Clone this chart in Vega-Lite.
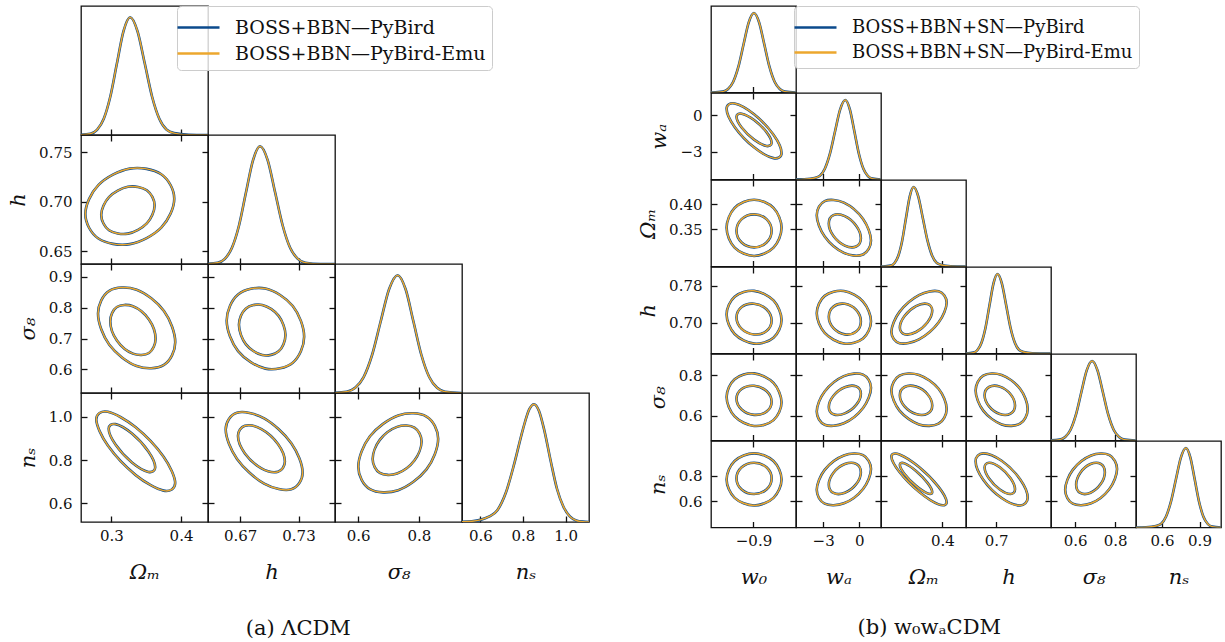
{
"$schema":"https://vega.github.io/schema/vega-lite/v6.json",
"background":"white",
"padding":{"left":6,"top":5,"right":0,"bottom":0},
"config":{
 "view":{"stroke":"#111","strokeWidth":1.3},
 "range":{"category":["#0b4a8c","#eca72e"]},
 "axis":{"domain":false,"grid":false,"ticks":true,"tickSize":-6,"tickColor":"#111","tickWidth":1.3,"labels":false,"labelFont":"DejaVu Serif","labelFontSize":15,"labelColor":"#111","labelFlush":false,"labelOverlap":false,"labelBound":false,"titleFont":"DejaVu Serif","titleFontSize":21,"titleFontWeight":"normal","titleFontStyle":"italic","titleColor":"#111"},
 "axisX":{"labelPadding":12,"titlePadding":18},
 "axisY":{"labelPadding":15,"titlePadding":10},
 "legend":{"symbolType":"M-1.5,0H1.5","symbolSize":784,"symbolStrokeWidth":2.6,"labelFont":"DejaVu Serif","labelFontSize":19,"labelColor":"#111","labelLimit":600,"labelOffset":21,"padding":6,"rowPadding":0,"strokeColor":"#cccccc","fillColor":"rgba(255,255,255,0.8)","cornerRadius":4},
 "title":{"font":"DejaVu Serif","fontSize":21,"fontWeight":"normal","color":"#111"}
},
"data":{"name":"d"},
"datasets":{"d":[
{"p":"L21","l":"o","i":0,"x":0.3903,"y":0.7031},{"p":"L21","l":"o","i":1,"x":0.3716,"y":0.7278},{"p":"L21","l":"o","i":2,"x":0.3265,"y":0.7335},{"p":"L21","l":"o","i":3,"x":0.2814,"y":0.7168},{"p":"L21","l":"o","i":4,"x":0.2627,"y":0.6875},{"p":"L21","l":"o","i":5,"x":0.2814,"y":0.6628},{"p":"L21","l":"o","i":6,"x":0.3265,"y":0.6571},{"p":"L21","l":"o","i":7,"x":0.3716,"y":0.6738},
{"p":"L21","l":"i","i":0,"x":0.3621,"y":0.6962},{"p":"L21","l":"i","i":1,"x":0.3509,"y":0.7116},{"p":"L21","l":"i","i":2,"x":0.3238,"y":0.7151},{"p":"L21","l":"i","i":3,"x":0.2967,"y":0.7047},{"p":"L21","l":"i","i":4,"x":0.2855,"y":0.6866},{"p":"L21","l":"i","i":5,"x":0.2967,"y":0.6712},{"p":"L21","l":"i","i":6,"x":0.3238,"y":0.6677},{"p":"L21","l":"i","i":7,"x":0.3509,"y":0.6781},
{"p":"L31","l":"o","i":0,"x":0.3917,"y":0.6885},{"p":"L31","l":"o","i":1,"x":0.3755,"y":0.7897},{"p":"L31","l":"o","i":2,"x":0.3363,"y":0.8586},{"p":"L31","l":"o","i":3,"x":0.2971,"y":0.8551},{"p":"L31","l":"o","i":4,"x":0.2809,"y":0.7811},{"p":"L31","l":"o","i":5,"x":0.2971,"y":0.6799},{"p":"L31","l":"o","i":6,"x":0.3363,"y":0.611},{"p":"L31","l":"o","i":7,"x":0.3755,"y":0.6145},
{"p":"L31","l":"i","i":0,"x":0.3635,"y":0.6993},{"p":"L31","l":"i","i":1,"x":0.354,"y":0.762},{"p":"L31","l":"i","i":2,"x":0.331,"y":0.8048},{"p":"L31","l":"i","i":3,"x":0.308,"y":0.8026},{"p":"L31","l":"i","i":4,"x":0.2985,"y":0.7567},{"p":"L31","l":"i","i":5,"x":0.308,"y":0.694},{"p":"L31","l":"i","i":6,"x":0.331,"y":0.6512},{"p":"L31","l":"i","i":7,"x":0.354,"y":0.6534},
{"p":"L41","l":"o","i":0,"x":0.3916,"y":0.6938},{"p":"L41","l":"o","i":1,"x":0.375,"y":0.815},{"p":"L41","l":"o","i":2,"x":0.335,"y":0.9514},{"p":"L41","l":"o","i":3,"x":0.295,"y":1.0231},{"p":"L41","l":"o","i":4,"x":0.2784,"y":0.9882},{"p":"L41","l":"o","i":5,"x":0.295,"y":0.867},{"p":"L41","l":"o","i":6,"x":0.335,"y":0.7306},{"p":"L41","l":"o","i":7,"x":0.375,"y":0.6589},
{"p":"L41","l":"i","i":0,"x":0.363,"y":0.7666},{"p":"L41","l":"i","i":1,"x":0.3532,"y":0.84},{"p":"L41","l":"i","i":2,"x":0.3296,"y":0.9227},{"p":"L41","l":"i","i":3,"x":0.306,"y":0.9662},{"p":"L41","l":"i","i":4,"x":0.2962,"y":0.945},{"p":"L41","l":"i","i":5,"x":0.306,"y":0.8716},{"p":"L41","l":"i","i":6,"x":0.3296,"y":0.7889},{"p":"L41","l":"i","i":7,"x":0.3532,"y":0.7454},
{"p":"L32","l":"o","i":0,"x":0.7358,"y":0.706},{"p":"L32","l":"o","i":1,"x":0.7241,"y":0.8056},{"p":"L32","l":"o","i":2,"x":0.696,"y":0.8623},{"p":"L32","l":"o","i":3,"x":0.6679,"y":0.843},{"p":"L32","l":"o","i":4,"x":0.6562,"y":0.759},{"p":"L32","l":"o","i":5,"x":0.6679,"y":0.6594},{"p":"L32","l":"o","i":6,"x":0.696,"y":0.6027},{"p":"L32","l":"o","i":7,"x":0.7241,"y":0.622},
{"p":"L32","l":"i","i":0,"x":0.7166,"y":0.7114},{"p":"L32","l":"i","i":1,"x":0.7096,"y":0.7738},{"p":"L32","l":"i","i":2,"x":0.6927,"y":0.8093},{"p":"L32","l":"i","i":3,"x":0.6758,"y":0.7972},{"p":"L32","l":"i","i":4,"x":0.6688,"y":0.7446},{"p":"L32","l":"i","i":5,"x":0.6758,"y":0.6822},{"p":"L32","l":"i","i":6,"x":0.6927,"y":0.6467},{"p":"L32","l":"i","i":7,"x":0.7096,"y":0.6588},
{"p":"L42","l":"o","i":0,"x":0.7342,"y":0.7427},{"p":"L42","l":"o","i":1,"x":0.7226,"y":0.8784},{"p":"L42","l":"o","i":2,"x":0.6947,"y":0.9928},{"p":"L42","l":"o","i":3,"x":0.6668,"y":1.0189},{"p":"L42","l":"o","i":4,"x":0.6552,"y":0.9413},{"p":"L42","l":"o","i":5,"x":0.6668,"y":0.8056},{"p":"L42","l":"o","i":6,"x":0.6947,"y":0.6912},{"p":"L42","l":"o","i":7,"x":0.7226,"y":0.6651},
{"p":"L42","l":"i","i":0,"x":0.716,"y":0.793},{"p":"L42","l":"i","i":1,"x":0.7089,"y":0.8744},{"p":"L42","l":"i","i":2,"x":0.6919,"y":0.9431},{"p":"L42","l":"i","i":3,"x":0.6749,"y":0.9587},{"p":"L42","l":"i","i":4,"x":0.6678,"y":0.9122},{"p":"L42","l":"i","i":5,"x":0.6749,"y":0.8308},{"p":"L42","l":"i","i":6,"x":0.6919,"y":0.7621},{"p":"L42","l":"i","i":7,"x":0.7089,"y":0.7465},
{"p":"L43","l":"o","i":0,"x":0.8635,"y":0.8982},{"p":"L43","l":"o","i":1,"x":0.825,"y":1.0014},{"p":"L43","l":"o","i":2,"x":0.7319,"y":1.0063},{"p":"L43","l":"o","i":3,"x":0.6388,"y":0.9102},{"p":"L43","l":"o","i":4,"x":0.6003,"y":0.7692},{"p":"L43","l":"o","i":5,"x":0.6388,"y":0.666},{"p":"L43","l":"o","i":6,"x":0.7319,"y":0.6611},{"p":"L43","l":"o","i":7,"x":0.825,"y":0.7572},
{"p":"L43","l":"i","i":0,"x":0.8088,"y":0.886},{"p":"L43","l":"i","i":1,"x":0.7852,"y":0.9505},{"p":"L43","l":"i","i":2,"x":0.7282,"y":0.9536},{"p":"L43","l":"i","i":3,"x":0.6712,"y":0.8935},{"p":"L43","l":"i","i":4,"x":0.6476,"y":0.8054},{"p":"L43","l":"i","i":5,"x":0.6712,"y":0.7409},{"p":"L43","l":"i","i":6,"x":0.7282,"y":0.7378},{"p":"L43","l":"i","i":7,"x":0.7852,"y":0.7979},
{"p":"R21","l":"o","i":0,"x":-0.702,"y":-3.08},{"p":"R21","l":"o","i":1,"x":-0.7588,"y":-1.5982},{"p":"R21","l":"o","i":2,"x":-0.896,"y":0.07},{"p":"R21","l":"o","i":3,"x":-1.0332,"y":0.9473},{"p":"R21","l":"o","i":4,"x":-1.09,"y":0.52},{"p":"R21","l":"o","i":5,"x":-1.0332,"y":-0.9618},{"p":"R21","l":"o","i":6,"x":-0.896,"y":-2.63},{"p":"R21","l":"o","i":7,"x":-0.7588,"y":-3.5073},
{"p":"R21","l":"i","i":0,"x":-0.772,"y":-2.264},{"p":"R21","l":"i","i":1,"x":-0.8083,"y":-1.3881},{"p":"R21","l":"i","i":2,"x":-0.896,"y":-0.402},{"p":"R21","l":"i","i":3,"x":-0.9837,"y":0.1166},{"p":"R21","l":"i","i":4,"x":-1.02,"y":-0.136},{"p":"R21","l":"i","i":5,"x":-0.9837,"y":-1.0119},{"p":"R21","l":"i","i":6,"x":-0.896,"y":-1.998},{"p":"R21","l":"i","i":7,"x":-0.8083,"y":-2.5166},
{"p":"R31","l":"o","i":0,"x":-0.702,"y":0.353},{"p":"R31","l":"o","i":1,"x":-0.7588,"y":0.3923},{"p":"R31","l":"o","i":2,"x":-0.896,"y":0.4086},{"p":"R31","l":"o","i":3,"x":-1.0332,"y":0.3923},{"p":"R31","l":"o","i":4,"x":-1.09,"y":0.353},{"p":"R31","l":"o","i":5,"x":-1.0332,"y":0.3137},{"p":"R31","l":"o","i":6,"x":-0.896,"y":0.2974},{"p":"R31","l":"o","i":7,"x":-0.7588,"y":0.3137},
{"p":"R31","l":"i","i":0,"x":-0.772,"y":0.347},{"p":"R31","l":"i","i":1,"x":-0.8083,"y":0.3701},{"p":"R31","l":"i","i":2,"x":-0.896,"y":0.3796},{"p":"R31","l":"i","i":3,"x":-0.9837,"y":0.3701},{"p":"R31","l":"i","i":4,"x":-1.02,"y":0.347},{"p":"R31","l":"i","i":5,"x":-0.9837,"y":0.3239},{"p":"R31","l":"i","i":6,"x":-0.896,"y":0.3144},{"p":"R31","l":"i","i":7,"x":-0.8083,"y":0.3239},
{"p":"R32","l":"o","i":0,"x":0.97,"y":0.328},{"p":"R32","l":"o","i":1,"x":0.311,"y":0.3704},{"p":"R32","l":"o","i":2,"x":-1.28,"y":0.4027},{"p":"R32","l":"o","i":3,"x":-2.871,"y":0.4058},{"p":"R32","l":"o","i":4,"x":-3.53,"y":0.378},{"p":"R32","l":"o","i":5,"x":-2.871,"y":0.3356},{"p":"R32","l":"o","i":6,"x":-1.28,"y":0.3033},{"p":"R32","l":"o","i":7,"x":0.311,"y":0.3002},
{"p":"R32","l":"i","i":0,"x":0.13,"y":0.3323},{"p":"R32","l":"i","i":1,"x":-0.2596,"y":0.3572},{"p":"R32","l":"i","i":2,"x":-1.2,"y":0.3761},{"p":"R32","l":"i","i":3,"x":-2.1404,"y":0.378},{"p":"R32","l":"i","i":4,"x":-2.53,"y":0.3617},{"p":"R32","l":"i","i":5,"x":-2.1404,"y":0.3368},{"p":"R32","l":"i","i":6,"x":-1.2,"y":0.3179},{"p":"R32","l":"i","i":7,"x":-0.2596,"y":0.316},
{"p":"R41","l":"o","i":0,"x":-0.702,"y":0.7063},{"p":"R41","l":"o","i":1,"x":-0.7588,"y":0.7481},{"p":"R41","l":"o","i":2,"x":-0.896,"y":0.7687},{"p":"R41","l":"o","i":3,"x":-1.0332,"y":0.7561},{"p":"R41","l":"o","i":4,"x":-1.09,"y":0.7177},{"p":"R41","l":"o","i":5,"x":-1.0332,"y":0.6759},{"p":"R41","l":"o","i":6,"x":-0.896,"y":0.6553},{"p":"R41","l":"o","i":7,"x":-0.7588,"y":0.6679},
{"p":"R41","l":"i","i":0,"x":-0.772,"y":0.7047},{"p":"R41","l":"i","i":1,"x":-0.8083,"y":0.7291},{"p":"R41","l":"i","i":2,"x":-0.896,"y":0.7411},{"p":"R41","l":"i","i":3,"x":-0.9837,"y":0.7338},{"p":"R41","l":"i","i":4,"x":-1.02,"y":0.7113},{"p":"R41","l":"i","i":5,"x":-0.9837,"y":0.6869},{"p":"R41","l":"i","i":6,"x":-0.896,"y":0.6749},{"p":"R41","l":"i","i":7,"x":-0.8083,"y":0.6822},
{"p":"R42","l":"o","i":0,"x":0.97,"y":0.7034},{"p":"R42","l":"o","i":1,"x":0.311,"y":0.7458},{"p":"R42","l":"o","i":2,"x":-1.28,"y":0.7684},{"p":"R42","l":"o","i":3,"x":-2.871,"y":0.7579},{"p":"R42","l":"o","i":4,"x":-3.53,"y":0.7206},{"p":"R42","l":"o","i":5,"x":-2.871,"y":0.6782},{"p":"R42","l":"o","i":6,"x":-1.28,"y":0.6556},{"p":"R42","l":"o","i":7,"x":0.311,"y":0.6661},
{"p":"R42","l":"i","i":0,"x":0.13,"y":0.703},{"p":"R42","l":"i","i":1,"x":-0.2596,"y":0.7277},{"p":"R42","l":"i","i":2,"x":-1.2,"y":0.7409},{"p":"R42","l":"i","i":3,"x":-2.1404,"y":0.7348},{"p":"R42","l":"i","i":4,"x":-2.53,"y":0.713},{"p":"R42","l":"i","i":5,"x":-2.1404,"y":0.6883},{"p":"R42","l":"i","i":6,"x":-1.2,"y":0.6751},{"p":"R42","l":"i","i":7,"x":-0.2596,"y":0.6812},
{"p":"R43","l":"o","i":0,"x":0.4086,"y":0.7434},{"p":"R43","l":"o","i":1,"x":0.3923,"y":0.7678},{"p":"R43","l":"o","i":2,"x":0.353,"y":0.7596},{"p":"R43","l":"o","i":3,"x":0.3137,"y":0.7235},{"p":"R43","l":"o","i":4,"x":0.2974,"y":0.6806},{"p":"R43","l":"o","i":5,"x":0.3137,"y":0.6562},{"p":"R43","l":"o","i":6,"x":0.353,"y":0.6644},{"p":"R43","l":"o","i":7,"x":0.3923,"y":0.7005},
{"p":"R43","l":"i","i":0,"x":0.3796,"y":0.7263},{"p":"R43","l":"i","i":1,"x":0.3701,"y":0.7406},{"p":"R43","l":"i","i":2,"x":0.347,"y":0.7358},{"p":"R43","l":"i","i":3,"x":0.3239,"y":0.7147},{"p":"R43","l":"i","i":4,"x":0.3144,"y":0.6897},{"p":"R43","l":"i","i":5,"x":0.3239,"y":0.6754},{"p":"R43","l":"i","i":6,"x":0.347,"y":0.6802},{"p":"R43","l":"i","i":7,"x":0.3701,"y":0.7013},
{"p":"R51","l":"o","i":0,"x":-0.702,"y":0.667},{"p":"R51","l":"o","i":1,"x":-0.7588,"y":0.7623},{"p":"R51","l":"o","i":2,"x":-0.896,"y":0.8094},{"p":"R51","l":"o","i":3,"x":-1.0332,"y":0.7807},{"p":"R51","l":"o","i":4,"x":-1.09,"y":0.693},{"p":"R51","l":"o","i":5,"x":-1.0332,"y":0.5977},{"p":"R51","l":"o","i":6,"x":-0.896,"y":0.5506},{"p":"R51","l":"o","i":7,"x":-0.7588,"y":0.5793},
{"p":"R51","l":"i","i":0,"x":-0.772,"y":0.6698},{"p":"R51","l":"i","i":1,"x":-0.8083,"y":0.7226},{"p":"R51","l":"i","i":2,"x":-0.896,"y":0.7486},{"p":"R51","l":"i","i":3,"x":-0.9837,"y":0.7327},{"p":"R51","l":"i","i":4,"x":-1.02,"y":0.6842},{"p":"R51","l":"i","i":5,"x":-0.9837,"y":0.6314},{"p":"R51","l":"i","i":6,"x":-0.896,"y":0.6054},{"p":"R51","l":"i","i":7,"x":-0.8083,"y":0.6213},
{"p":"R52","l":"o","i":0,"x":0.97,"y":0.7385},{"p":"R52","l":"o","i":1,"x":0.311,"y":0.8035},{"p":"R52","l":"o","i":2,"x":-1.28,"y":0.7961},{"p":"R52","l":"o","i":3,"x":-2.871,"y":0.7207},{"p":"R52","l":"o","i":4,"x":-3.53,"y":0.6215},{"p":"R52","l":"o","i":5,"x":-2.871,"y":0.5565},{"p":"R52","l":"o","i":6,"x":-1.28,"y":0.5639},{"p":"R52","l":"o","i":7,"x":0.311,"y":0.6393},
{"p":"R52","l":"i","i":0,"x":0.13,"y":0.7094},{"p":"R52","l":"i","i":1,"x":-0.2596,"y":0.7454},{"p":"R52","l":"i","i":2,"x":-1.2,"y":0.7413},{"p":"R52","l":"i","i":3,"x":-2.1404,"y":0.6996},{"p":"R52","l":"i","i":4,"x":-2.53,"y":0.6446},{"p":"R52","l":"i","i":5,"x":-2.1404,"y":0.6086},{"p":"R52","l":"i","i":6,"x":-1.2,"y":0.6127},{"p":"R52","l":"i","i":7,"x":-0.2596,"y":0.6544},
{"p":"R53","l":"o","i":0,"x":0.4086,"y":0.6345},{"p":"R53","l":"o","i":1,"x":0.3923,"y":0.7339},{"p":"R53","l":"o","i":2,"x":0.353,"y":0.8018},{"p":"R53","l":"o","i":3,"x":0.3137,"y":0.7983},{"p":"R53","l":"o","i":4,"x":0.2974,"y":0.7255},{"p":"R53","l":"o","i":5,"x":0.3137,"y":0.6261},{"p":"R53","l":"o","i":6,"x":0.353,"y":0.5582},{"p":"R53","l":"o","i":7,"x":0.3923,"y":0.5617},
{"p":"R53","l":"i","i":0,"x":0.3796,"y":0.6518},{"p":"R53","l":"i","i":1,"x":0.3701,"y":0.7069},{"p":"R53","l":"i","i":2,"x":0.347,"y":0.7444},{"p":"R53","l":"i","i":3,"x":0.3239,"y":0.7425},{"p":"R53","l":"i","i":4,"x":0.3144,"y":0.7022},{"p":"R53","l":"i","i":5,"x":0.3239,"y":0.6471},{"p":"R53","l":"i","i":6,"x":0.347,"y":0.6096},{"p":"R53","l":"i","i":7,"x":0.3701,"y":0.6115},
{"p":"R54","l":"o","i":0,"x":0.769,"y":0.6345},{"p":"R54","l":"o","i":1,"x":0.7523,"y":0.7339},{"p":"R54","l":"o","i":2,"x":0.712,"y":0.8018},{"p":"R54","l":"o","i":3,"x":0.6717,"y":0.7983},{"p":"R54","l":"o","i":4,"x":0.655,"y":0.7255},{"p":"R54","l":"o","i":5,"x":0.6717,"y":0.6261},{"p":"R54","l":"o","i":6,"x":0.712,"y":0.5582},{"p":"R54","l":"o","i":7,"x":0.7523,"y":0.5617},
{"p":"R54","l":"i","i":0,"x":0.7413,"y":0.6518},{"p":"R54","l":"i","i":1,"x":0.7315,"y":0.7069},{"p":"R54","l":"i","i":2,"x":0.708,"y":0.7444},{"p":"R54","l":"i","i":3,"x":0.6845,"y":0.7425},{"p":"R54","l":"i","i":4,"x":0.6747,"y":0.7022},{"p":"R54","l":"i","i":5,"x":0.6845,"y":0.6471},{"p":"R54","l":"i","i":6,"x":0.708,"y":0.6096},{"p":"R54","l":"i","i":7,"x":0.7315,"y":0.6115},
{"p":"R61","l":"o","i":0,"x":-0.702,"y":0.77},{"p":"R61","l":"o","i":1,"x":-0.7588,"y":0.915},{"p":"R61","l":"o","i":2,"x":-0.896,"y":0.975},{"p":"R61","l":"o","i":3,"x":-1.0332,"y":0.915},{"p":"R61","l":"o","i":4,"x":-1.09,"y":0.77},{"p":"R61","l":"o","i":5,"x":-1.0332,"y":0.625},{"p":"R61","l":"o","i":6,"x":-0.896,"y":0.565},{"p":"R61","l":"o","i":7,"x":-0.7588,"y":0.625},
{"p":"R61","l":"i","i":0,"x":-0.772,"y":0.778},{"p":"R61","l":"i","i":1,"x":-0.8083,"y":0.865},{"p":"R61","l":"i","i":2,"x":-0.896,"y":0.901},{"p":"R61","l":"i","i":3,"x":-0.9837,"y":0.865},{"p":"R61","l":"i","i":4,"x":-1.02,"y":0.778},{"p":"R61","l":"i","i":5,"x":-0.9837,"y":0.691},{"p":"R61","l":"i","i":6,"x":-0.896,"y":0.655},{"p":"R61","l":"i","i":7,"x":-0.8083,"y":0.691},
{"p":"R62","l":"o","i":0,"x":0.97,"y":0.852},{"p":"R62","l":"o","i":1,"x":0.311,"y":0.9608},{"p":"R62","l":"o","i":2,"x":-1.28,"y":0.9579},{"p":"R62","l":"o","i":3,"x":-2.871,"y":0.8449},{"p":"R62","l":"o","i":4,"x":-3.53,"y":0.688},{"p":"R62","l":"o","i":5,"x":-2.871,"y":0.5792},{"p":"R62","l":"o","i":6,"x":-1.28,"y":0.5821},{"p":"R62","l":"o","i":7,"x":0.311,"y":0.6951},
{"p":"R62","l":"i","i":0,"x":0.13,"y":0.8272},{"p":"R62","l":"i","i":1,"x":-0.2596,"y":0.8925},{"p":"R62","l":"i","i":2,"x":-1.2,"y":0.8907},{"p":"R62","l":"i","i":3,"x":-2.1404,"y":0.8229},{"p":"R62","l":"i","i":4,"x":-2.53,"y":0.7288},{"p":"R62","l":"i","i":5,"x":-2.1404,"y":0.6635},{"p":"R62","l":"i","i":6,"x":-1.2,"y":0.6653},{"p":"R62","l":"i","i":7,"x":-0.2596,"y":0.7331},
{"p":"R63","l":"o","i":0,"x":0.4086,"y":0.5896},{"p":"R63","l":"o","i":1,"x":0.3923,"y":0.7113},{"p":"R63","l":"o","i":2,"x":0.353,"y":0.8674},{"p":"R63","l":"o","i":3,"x":0.3137,"y":0.9664},{"p":"R63","l":"o","i":4,"x":0.2974,"y":0.9504},{"p":"R63","l":"o","i":5,"x":0.3137,"y":0.8287},{"p":"R63","l":"o","i":6,"x":0.353,"y":0.6726},{"p":"R63","l":"o","i":7,"x":0.3923,"y":0.5736},
{"p":"R63","l":"i","i":0,"x":0.3796,"y":0.6698},{"p":"R63","l":"i","i":1,"x":0.3701,"y":0.7428},{"p":"R63","l":"i","i":2,"x":0.347,"y":0.8364},{"p":"R63","l":"i","i":3,"x":0.3239,"y":0.8958},{"p":"R63","l":"i","i":4,"x":0.3144,"y":0.8862},{"p":"R63","l":"i","i":5,"x":0.3239,"y":0.8132},{"p":"R63","l":"i","i":6,"x":0.347,"y":0.7196},{"p":"R63","l":"i","i":7,"x":0.3701,"y":0.6602},
{"p":"R64","l":"o","i":0,"x":0.769,"y":0.6265},{"p":"R64","l":"o","i":1,"x":0.7523,"y":0.7721},{"p":"R64","l":"o","i":2,"x":0.712,"y":0.9164},{"p":"R64","l":"o","i":3,"x":0.6717,"y":0.975},{"p":"R64","l":"o","i":4,"x":0.655,"y":0.9135},{"p":"R64","l":"o","i":5,"x":0.6717,"y":0.7679},{"p":"R64","l":"o","i":6,"x":0.712,"y":0.6236},{"p":"R64","l":"o","i":7,"x":0.7523,"y":0.565},
{"p":"R64","l":"i","i":0,"x":0.7413,"y":0.6919},{"p":"R64","l":"i","i":1,"x":0.7315,"y":0.7792},{"p":"R64","l":"i","i":2,"x":0.708,"y":0.8658},{"p":"R64","l":"i","i":3,"x":0.6845,"y":0.901},{"p":"R64","l":"i","i":4,"x":0.6747,"y":0.8641},{"p":"R64","l":"i","i":5,"x":0.6845,"y":0.7768},{"p":"R64","l":"i","i":6,"x":0.708,"y":0.6902},{"p":"R64","l":"i","i":7,"x":0.7315,"y":0.655},
{"p":"R65","l":"o","i":0,"x":0.81,"y":0.852},{"p":"R65","l":"o","i":1,"x":0.7719,"y":0.9608},{"p":"R65","l":"o","i":2,"x":0.68,"y":0.9579},{"p":"R65","l":"o","i":3,"x":0.5881,"y":0.8449},{"p":"R65","l":"o","i":4,"x":0.55,"y":0.688},{"p":"R65","l":"o","i":5,"x":0.5881,"y":0.5792},{"p":"R65","l":"o","i":6,"x":0.68,"y":0.5821},{"p":"R65","l":"o","i":7,"x":0.7719,"y":0.6951},
{"p":"R65","l":"i","i":0,"x":0.749,"y":0.8272},{"p":"R65","l":"i","i":1,"x":0.7279,"y":0.8925},{"p":"R65","l":"i","i":2,"x":0.677,"y":0.8907},{"p":"R65","l":"i","i":3,"x":0.6261,"y":0.8229},{"p":"R65","l":"i","i":4,"x":0.605,"y":0.7288},{"p":"R65","l":"i","i":5,"x":0.6261,"y":0.6635},{"p":"R65","l":"i","i":6,"x":0.677,"y":0.6653},{"p":"R65","l":"i","i":7,"x":0.7279,"y":0.7331},
{"p":"D1","x":0.251,"y":0.0003},{"p":"D1","x":0.27,"y":0.0111},{"p":"D1","x":0.2795,"y":0.0439},{"p":"D1","x":0.289,"y":0.1353},{"p":"D1","x":0.2985,"y":0.3247},{"p":"D1","x":0.308,"y":0.6065},{"p":"D1","x":0.3175,"y":0.8825},{"p":"D1","x":0.327,"y":1},{"p":"D1","x":0.3375,"y":0.8825},{"p":"D1","x":0.348,"y":0.6065},{"p":"D1","x":0.3585,"y":0.3247},{"p":"D1","x":0.369,"y":0.1353},{"p":"D1","x":0.3795,"y":0.0439},{"p":"D1","x":0.39,"y":0.016},{"p":"D1","x":0.411,"y":0.002},{"p":"D1","x":0.44,"y":0},
{"p":"D2","x":0.6325,"y":0.0003},{"p":"D2","x":0.647,"y":0.0111},{"p":"D2","x":0.6543,"y":0.0439},{"p":"D2","x":0.6615,"y":0.1353},{"p":"D2","x":0.6688,"y":0.3247},{"p":"D2","x":0.676,"y":0.6065},{"p":"D2","x":0.6833,"y":0.8825},{"p":"D2","x":0.6905,"y":1},{"p":"D2","x":0.6983,"y":0.8825},{"p":"D2","x":0.706,"y":0.6065},{"p":"D2","x":0.7138,"y":0.3247},{"p":"D2","x":0.7215,"y":0.1353},{"p":"D2","x":0.7293,"y":0.0439},{"p":"D2","x":0.737,"y":0.0111},{"p":"D2","x":0.7525,"y":0.0003},{"p":"D2","x":0.77,"y":0},
{"p":"D3","x":0.506,"y":0.0003},{"p":"D3","x":0.562,"y":0.0111},{"p":"D3","x":0.59,"y":0.0439},{"p":"D3","x":0.618,"y":0.1353},{"p":"D3","x":0.646,"y":0.3247},{"p":"D3","x":0.674,"y":0.6065},{"p":"D3","x":0.702,"y":0.8825},{"p":"D3","x":0.73,"y":1},{"p":"D3","x":0.756,"y":0.8825},{"p":"D3","x":0.782,"y":0.6065},{"p":"D3","x":0.808,"y":0.3247},{"p":"D3","x":0.834,"y":0.1353},{"p":"D3","x":0.86,"y":0.0439},{"p":"D3","x":0.886,"y":0.0111},{"p":"D3","x":0.938,"y":0.0003},{"p":"D3","x":0.95,"y":0},
{"p":"D4","x":0.51,"y":0.001},{"p":"D4","x":0.56,"y":0.006},{"p":"D4","x":0.6,"y":0.018},{"p":"D4","x":0.64,"y":0.045},{"p":"D4","x":0.68,"y":0.1},{"p":"D4","x":0.72,"y":0.25},{"p":"D4","x":0.76,"y":0.5},{"p":"D4","x":0.8,"y":0.787},{"p":"D4","x":0.83,"y":0.958},{"p":"D4","x":0.852,"y":1},{"p":"D4","x":0.875,"y":0.944},{"p":"D4","x":0.9,"y":0.78},{"p":"D4","x":0.93,"y":0.52},{"p":"D4","x":0.96,"y":0.28},{"p":"D4","x":0.99,"y":0.13},{"p":"D4","x":1.02,"y":0.047},{"p":"D4","x":1.05,"y":0.013},{"p":"D4","x":1.08,"y":0.003},{"p":"D4","x":1.12,"y":0},
{"p":"E1","x":-1.2,"y":0},{"p":"E1","x":-1.189,"y":0.0003},{"p":"E1","x":-1.116,"y":0.0111},{"p":"E1","x":-1.0795,"y":0.0439},{"p":"E1","x":-1.043,"y":0.1353},{"p":"E1","x":-1.0065,"y":0.3247},{"p":"E1","x":-0.97,"y":0.6065},{"p":"E1","x":-0.9335,"y":0.8825},{"p":"E1","x":-0.897,"y":1},{"p":"E1","x":-0.8605,"y":0.8825},{"p":"E1","x":-0.824,"y":0.6065},{"p":"E1","x":-0.7875,"y":0.3247},{"p":"E1","x":-0.751,"y":0.1353},{"p":"E1","x":-0.7145,"y":0.0439},{"p":"E1","x":-0.678,"y":0.0111},{"p":"E1","x":-0.605,"y":0.0003},{"p":"E1","x":-0.6,"y":0},
{"p":"E2","x":-5.25,"y":0.001},{"p":"E2","x":-4.56,"y":0.004},{"p":"E2","x":-3.71,"y":0.02},{"p":"E2","x":-3.285,"y":0.0439},{"p":"E2","x":-2.86,"y":0.1353},{"p":"E2","x":-2.435,"y":0.3247},{"p":"E2","x":-2.01,"y":0.6065},{"p":"E2","x":-1.585,"y":0.8825},{"p":"E2","x":-1.16,"y":1},{"p":"E2","x":-0.785,"y":0.8825},{"p":"E2","x":-0.41,"y":0.6065},{"p":"E2","x":-0.035,"y":0.3247},{"p":"E2","x":0.34,"y":0.1353},{"p":"E2","x":0.715,"y":0.0439},{"p":"E2","x":1.09,"y":0.0111},{"p":"E2","x":1.84,"y":0.0003},
{"p":"E3","x":0.2765,"y":0},{"p":"E3","x":0.2808,"y":0.0003},{"p":"E3","x":0.2961,"y":0.0111},{"p":"E3","x":0.3038,"y":0.0439},{"p":"E3","x":0.3114,"y":0.1353},{"p":"E3","x":0.3191,"y":0.3247},{"p":"E3","x":0.3267,"y":0.6065},{"p":"E3","x":0.3344,"y":0.8825},{"p":"E3","x":0.342,"y":1},{"p":"E3","x":0.3514,"y":0.8825},{"p":"E3","x":0.3607,"y":0.6065},{"p":"E3","x":0.3701,"y":0.3247},{"p":"E3","x":0.3794,"y":0.1353},{"p":"E3","x":0.3888,"y":0.0439},{"p":"E3","x":0.3981,"y":0.02},{"p":"E3","x":0.4168,"y":0.004},{"p":"E3","x":0.4475,"y":0},
{"p":"E4","x":0.6329,"y":0.0003},{"p":"E4","x":0.6504,"y":0.0111},{"p":"E4","x":0.6592,"y":0.0439},{"p":"E4","x":0.6679,"y":0.1353},{"p":"E4","x":0.6767,"y":0.3247},{"p":"E4","x":0.6854,"y":0.6065},{"p":"E4","x":0.6942,"y":0.8825},{"p":"E4","x":0.7029,"y":1},{"p":"E4","x":0.7124,"y":0.8825},{"p":"E4","x":0.7219,"y":0.6065},{"p":"E4","x":0.7314,"y":0.3247},{"p":"E4","x":0.7409,"y":0.1353},{"p":"E4","x":0.7504,"y":0.0439},{"p":"E4","x":0.7599,"y":0.02},{"p":"E4","x":0.7789,"y":0.004},{"p":"E4","x":0.82,"y":0},
{"p":"E5","x":0.469,"y":0.0003},{"p":"E5","x":0.523,"y":0.0111},{"p":"E5","x":0.55,"y":0.0439},{"p":"E5","x":0.577,"y":0.1353},{"p":"E5","x":0.604,"y":0.3247},{"p":"E5","x":0.631,"y":0.6065},{"p":"E5","x":0.658,"y":0.8825},{"p":"E5","x":0.685,"y":1},{"p":"E5","x":0.712,"y":0.8825},{"p":"E5","x":0.739,"y":0.6065},{"p":"E5","x":0.766,"y":0.3247},{"p":"E5","x":0.793,"y":0.1353},{"p":"E5","x":0.82,"y":0.0439},{"p":"E5","x":0.847,"y":0.0111},{"p":"E5","x":0.901,"y":0.0003},{"p":"E5","x":0.91,"y":0},
{"p":"E6","x":0.392,"y":0},{"p":"E6","x":0.4715,"y":0.004},{"p":"E6","x":0.5515,"y":0.02},{"p":"E6","x":0.5915,"y":0.0439},{"p":"E6","x":0.6315,"y":0.1353},{"p":"E6","x":0.6715,"y":0.3247},{"p":"E6","x":0.7115,"y":0.6065},{"p":"E6","x":0.7515,"y":0.8825},{"p":"E6","x":0.7915,"y":1},{"p":"E6","x":0.8265,"y":0.8825},{"p":"E6","x":0.8615,"y":0.6065},{"p":"E6","x":0.8965,"y":0.3247},{"p":"E6","x":0.9315,"y":0.1353},{"p":"E6","x":0.9665,"y":0.0439},{"p":"E6","x":1.0015,"y":0.0111},{"p":"E6","x":1.0715,"y":0.0003}
]},
"hconcat":[
{"title":{"text":"(a) ΛCDM","orient":"bottom","anchor":"middle","frame":"bounds","offset":35},
 "columns":4,"spacing":0,"bounds":"flush",
 "concat":[
  {"width":127,"height":129,"transform":[{"filter":"datum.p=='D1'"}],
   "encoding":{"x":{"field":"x","type":"quantitative","scale":{"domain":[0.2565,0.4387],"nice":false,"zero":false},"axis":{"values":[0.3,0.4],"title":null}},"y":{"field":"y","type":"quantitative","scale":{"domain":[0,1.095],"nice":false},"axis":null}},
   "layer":[{"mark":{"type":"line","interpolate":"monotone","strokeWidth":2.6,"clip":true},"encoding":{"color":{"datum":"BOSS+BBN—PyBird","legend":{"orient":"none","legendX":96,"legendY":0,"title":null}}}},
    {"mark":{"type":"line","interpolate":"monotone","strokeWidth":1.5,"clip":true},"encoding":{"color":{"datum":"BOSS+BBN—PyBird-Emu"}}}]},
  {"width":127,"height":129,"data":{"values":[{}]},"mark":{"type":"text","text":""},"view":{"stroke":null}},
  {"width":127,"height":129,"data":{"values":[{}]},"mark":{"type":"text","text":""},"view":{"stroke":null}},
  {"width":127,"height":129,"data":{"values":[{}]},"mark":{"type":"text","text":""},"view":{"stroke":null}},
  {"width":127,"height":129,"transform":[{"filter":"datum.p=='L21'"}],
   "layer":[
    {"mark":{"type":"line","interpolate":"cardinal-closed","strokeWidth":2.6,"clip":true},"encoding":{
     "x":{"field":"x","type":"quantitative","scale":{"domain":[0.2565,0.4387],"nice":false,"zero":false},"axis":{"orient":"bottom","values":[0.3,0.4],"title":null}},
     "y":{"field":"y","type":"quantitative","scale":{"domain":[0.637,0.7675],"nice":false,"zero":false},"axis":{"orient":"left","values":[0.65,0.7,0.75],"labels":true,"format":".2f","title":"h"}},
     "detail":{"field":"l","type":"nominal"},"order":{"field":"i","type":"quantitative"},"color":{"datum":"BOSS+BBN—PyBird"}}},
    {"mark":{"type":"line","interpolate":"cardinal-closed","strokeWidth":1.5,"clip":true},"encoding":{
     "x":{"field":"x","type":"quantitative","scale":{"domain":[0.2565,0.4387],"nice":false,"zero":false},"axis":{"orient":"top","values":[0.3,0.4],"title":null}},
     "y":{"field":"y","type":"quantitative","scale":{"domain":[0.637,0.7675],"nice":false,"zero":false},"axis":{"orient":"right","values":[0.65,0.7,0.75],"title":null}},
     "detail":{"field":"l","type":"nominal"},"order":{"field":"i","type":"quantitative"},"color":{"datum":"BOSS+BBN—PyBird-Emu"}}}],
   "resolve":{"axis":{"x":"independent","y":"independent"}}},
  {"width":127,"height":129,"transform":[{"filter":"datum.p=='D2'"}],
   "encoding":{"x":{"field":"x","type":"quantitative","scale":{"domain":[0.637,0.7675],"nice":false,"zero":false},"axis":{"values":[0.67,0.73],"title":null}},"y":{"field":"y","type":"quantitative","scale":{"domain":[0,1.095],"nice":false},"axis":null}},
   "layer":[{"mark":{"type":"line","interpolate":"monotone","strokeWidth":2.6,"clip":true},"encoding":{"color":{"datum":"BOSS+BBN—PyBird"}}},
    {"mark":{"type":"line","interpolate":"monotone","strokeWidth":1.5,"clip":true},"encoding":{"color":{"datum":"BOSS+BBN—PyBird-Emu"}}}]},
  {"width":127,"height":129,"data":{"values":[{}]},"mark":{"type":"text","text":""},"view":{"stroke":null}},
  {"width":127,"height":129,"data":{"values":[{}]},"mark":{"type":"text","text":""},"view":{"stroke":null}},
  {"width":127,"height":129,"transform":[{"filter":"datum.p=='L31'"}],
   "layer":[
    {"mark":{"type":"line","interpolate":"cardinal-closed","strokeWidth":2.6,"clip":true},"encoding":{
     "x":{"field":"x","type":"quantitative","scale":{"domain":[0.2565,0.4387],"nice":false,"zero":false},"axis":{"orient":"bottom","values":[0.3,0.4],"title":null}},
     "y":{"field":"y","type":"quantitative","scale":{"domain":[0.5236,0.942],"nice":false,"zero":false},"axis":{"orient":"left","values":[0.6,0.7,0.8,0.9],"labels":true,"format":".1f","title":"σ₈"}},
     "detail":{"field":"l","type":"nominal"},"order":{"field":"i","type":"quantitative"},"color":{"datum":"BOSS+BBN—PyBird"}}},
    {"mark":{"type":"line","interpolate":"cardinal-closed","strokeWidth":1.5,"clip":true},"encoding":{
     "x":{"field":"x","type":"quantitative","scale":{"domain":[0.2565,0.4387],"nice":false,"zero":false},"axis":{"orient":"top","values":[0.3,0.4],"title":null}},
     "y":{"field":"y","type":"quantitative","scale":{"domain":[0.5236,0.942],"nice":false,"zero":false},"axis":{"orient":"right","values":[0.6,0.7,0.8,0.9],"title":null}},
     "detail":{"field":"l","type":"nominal"},"order":{"field":"i","type":"quantitative"},"color":{"datum":"BOSS+BBN—PyBird-Emu"}}}],
   "resolve":{"axis":{"x":"independent","y":"independent"}}},
  {"width":127,"height":129,"transform":[{"filter":"datum.p=='L32'"}],
   "layer":[
    {"mark":{"type":"line","interpolate":"cardinal-closed","strokeWidth":2.6,"clip":true},"encoding":{
     "x":{"field":"x","type":"quantitative","scale":{"domain":[0.637,0.7675],"nice":false,"zero":false},"axis":{"orient":"bottom","values":[0.67,0.73],"title":null}},
     "y":{"field":"y","type":"quantitative","scale":{"domain":[0.5236,0.942],"nice":false,"zero":false},"axis":{"orient":"left","values":[0.6,0.7,0.8,0.9],"title":null}},
     "detail":{"field":"l","type":"nominal"},"order":{"field":"i","type":"quantitative"},"color":{"datum":"BOSS+BBN—PyBird"}}},
    {"mark":{"type":"line","interpolate":"cardinal-closed","strokeWidth":1.5,"clip":true},"encoding":{
     "x":{"field":"x","type":"quantitative","scale":{"domain":[0.637,0.7675],"nice":false,"zero":false},"axis":{"orient":"top","values":[0.67,0.73],"title":null}},
     "y":{"field":"y","type":"quantitative","scale":{"domain":[0.5236,0.942],"nice":false,"zero":false},"axis":{"orient":"right","values":[0.6,0.7,0.8,0.9],"title":null}},
     "detail":{"field":"l","type":"nominal"},"order":{"field":"i","type":"quantitative"},"color":{"datum":"BOSS+BBN—PyBird-Emu"}}}],
   "resolve":{"axis":{"x":"independent","y":"independent"}}},
  {"width":127,"height":129,"transform":[{"filter":"datum.p=='D3'"}],
   "encoding":{"x":{"field":"x","type":"quantitative","scale":{"domain":[0.5236,0.942],"nice":false,"zero":false},"axis":{"values":[0.6,0.8],"title":null}},"y":{"field":"y","type":"quantitative","scale":{"domain":[0,1.095],"nice":false},"axis":null}},
   "layer":[{"mark":{"type":"line","interpolate":"monotone","strokeWidth":2.6,"clip":true},"encoding":{"color":{"datum":"BOSS+BBN—PyBird"}}},
    {"mark":{"type":"line","interpolate":"monotone","strokeWidth":1.5,"clip":true},"encoding":{"color":{"datum":"BOSS+BBN—PyBird-Emu"}}}]},
  {"width":127,"height":129,"data":{"values":[{}]},"mark":{"type":"text","text":""},"view":{"stroke":null}},
  {"width":127,"height":129,"transform":[{"filter":"datum.p=='L41'"}],
   "layer":[
    {"mark":{"type":"line","interpolate":"cardinal-closed","strokeWidth":2.6,"clip":true},"encoding":{
     "x":{"field":"x","type":"quantitative","scale":{"domain":[0.2565,0.4387],"nice":false,"zero":false},"axis":{"orient":"bottom","values":[0.3,0.4],"labels":true,"format":".1f","title":"Ωₘ"}},
     "y":{"field":"y","type":"quantitative","scale":{"domain":[0.514,1.11],"nice":false,"zero":false},"axis":{"orient":"left","values":[0.6,0.8,1.0],"labels":true,"format":".1f","title":"nₛ"}},
     "detail":{"field":"l","type":"nominal"},"order":{"field":"i","type":"quantitative"},"color":{"datum":"BOSS+BBN—PyBird"}}},
    {"mark":{"type":"line","interpolate":"cardinal-closed","strokeWidth":1.5,"clip":true},"encoding":{
     "x":{"field":"x","type":"quantitative","scale":{"domain":[0.2565,0.4387],"nice":false,"zero":false},"axis":{"orient":"top","values":[0.3,0.4],"title":null}},
     "y":{"field":"y","type":"quantitative","scale":{"domain":[0.514,1.11],"nice":false,"zero":false},"axis":{"orient":"right","values":[0.6,0.8,1.0],"title":null}},
     "detail":{"field":"l","type":"nominal"},"order":{"field":"i","type":"quantitative"},"color":{"datum":"BOSS+BBN—PyBird-Emu"}}}],
   "resolve":{"axis":{"x":"independent","y":"independent"}}},
  {"width":127,"height":129,"transform":[{"filter":"datum.p=='L42'"}],
   "layer":[
    {"mark":{"type":"line","interpolate":"cardinal-closed","strokeWidth":2.6,"clip":true},"encoding":{
     "x":{"field":"x","type":"quantitative","scale":{"domain":[0.637,0.7675],"nice":false,"zero":false},"axis":{"orient":"bottom","values":[0.67,0.73],"labels":true,"format":".2f","title":"h"}},
     "y":{"field":"y","type":"quantitative","scale":{"domain":[0.514,1.11],"nice":false,"zero":false},"axis":{"orient":"left","values":[0.6,0.8,1.0],"title":null}},
     "detail":{"field":"l","type":"nominal"},"order":{"field":"i","type":"quantitative"},"color":{"datum":"BOSS+BBN—PyBird"}}},
    {"mark":{"type":"line","interpolate":"cardinal-closed","strokeWidth":1.5,"clip":true},"encoding":{
     "x":{"field":"x","type":"quantitative","scale":{"domain":[0.637,0.7675],"nice":false,"zero":false},"axis":{"orient":"top","values":[0.67,0.73],"title":null}},
     "y":{"field":"y","type":"quantitative","scale":{"domain":[0.514,1.11],"nice":false,"zero":false},"axis":{"orient":"right","values":[0.6,0.8,1.0],"title":null}},
     "detail":{"field":"l","type":"nominal"},"order":{"field":"i","type":"quantitative"},"color":{"datum":"BOSS+BBN—PyBird-Emu"}}}],
   "resolve":{"axis":{"x":"independent","y":"independent"}}},
  {"width":127,"height":129,"transform":[{"filter":"datum.p=='L43'"}],
   "layer":[
    {"mark":{"type":"line","interpolate":"cardinal-closed","strokeWidth":2.6,"clip":true},"encoding":{
     "x":{"field":"x","type":"quantitative","scale":{"domain":[0.5236,0.942],"nice":false,"zero":false},"axis":{"orient":"bottom","values":[0.6,0.8],"labels":true,"format":".1f","title":"σ₈"}},
     "y":{"field":"y","type":"quantitative","scale":{"domain":[0.514,1.11],"nice":false,"zero":false},"axis":{"orient":"left","values":[0.6,0.8,1.0],"title":null}},
     "detail":{"field":"l","type":"nominal"},"order":{"field":"i","type":"quantitative"},"color":{"datum":"BOSS+BBN—PyBird"}}},
    {"mark":{"type":"line","interpolate":"cardinal-closed","strokeWidth":1.5,"clip":true},"encoding":{
     "x":{"field":"x","type":"quantitative","scale":{"domain":[0.5236,0.942],"nice":false,"zero":false},"axis":{"orient":"top","values":[0.6,0.8],"title":null}},
     "y":{"field":"y","type":"quantitative","scale":{"domain":[0.514,1.11],"nice":false,"zero":false},"axis":{"orient":"right","values":[0.6,0.8,1.0],"title":null}},
     "detail":{"field":"l","type":"nominal"},"order":{"field":"i","type":"quantitative"},"color":{"datum":"BOSS+BBN—PyBird-Emu"}}}],
   "resolve":{"axis":{"x":"independent","y":"independent"}}},
  {"width":127,"height":129,"transform":[{"filter":"datum.p=='D4'"}],
   "encoding":{"x":{"field":"x","type":"quantitative","scale":{"domain":[0.514,1.11],"nice":false,"zero":false},"axis":{"values":[0.6,0.8,1.0],"labels":true,"format":".1f","title":"nₛ"}},"y":{"field":"y","type":"quantitative","scale":{"domain":[0,1.095],"nice":false},"axis":null}},
   "layer":[{"mark":{"type":"line","interpolate":"monotone","strokeWidth":2.6,"clip":true},"encoding":{"color":{"datum":"BOSS+BBN—PyBird"}}},
    {"mark":{"type":"line","interpolate":"monotone","strokeWidth":1.5,"clip":true},"encoding":{"color":{"datum":"BOSS+BBN—PyBird-Emu"}}}]}
 ]},
{"title":{"text":"(b) w₀wₐCDM","orient":"bottom","anchor":"middle","frame":"bounds","offset":29},
 "columns":6,"spacing":0,"bounds":"flush",
 "concat":[
  {"width":85,"height":86.5,"transform":[{"filter":"datum.p=='E1'"}],
   "encoding":{"x":{"field":"x","type":"quantitative","scale":{"domain":[-1.2,-0.6],"nice":false,"zero":false},"axis":{"values":[-0.9],"title":null}},"y":{"field":"y","type":"quantitative","scale":{"domain":[0,1.088],"nice":false},"axis":null}},
   "layer":[{"mark":{"type":"line","interpolate":"monotone","strokeWidth":2.6,"clip":true},"encoding":{"color":{"datum":"BOSS+BBN+SN—PyBird","legend":{"orient":"none","legendX":83,"legendY":0,"title":null,"labelFontSize":18}}}},
    {"mark":{"type":"line","interpolate":"monotone","strokeWidth":1.5,"clip":true},"encoding":{"color":{"datum":"BOSS+BBN+SN—PyBird-Emu"}}}]},
  {"width":85,"height":86.5,"data":{"values":[{}]},"mark":{"type":"text","text":""},"view":{"stroke":null}},
  {"width":85,"height":86.5,"data":{"values":[{}]},"mark":{"type":"text","text":""},"view":{"stroke":null}},
  {"width":85,"height":86.5,"data":{"values":[{}]},"mark":{"type":"text","text":""},"view":{"stroke":null}},
  {"width":85,"height":86.5,"data":{"values":[{}]},"mark":{"type":"text","text":""},"view":{"stroke":null}},
  {"width":85,"height":86.5,"data":{"values":[{}]},"mark":{"type":"text","text":""},"view":{"stroke":null}},
  {"width":85,"height":86.5,"transform":[{"filter":"datum.p=='R21'"}],
   "layer":[
    {"mark":{"type":"line","interpolate":"cardinal-closed","strokeWidth":2.6,"clip":true},"encoding":{
     "x":{"field":"x","type":"quantitative","scale":{"domain":[-1.2,-0.6],"nice":false,"zero":false},"axis":{"orient":"bottom","values":[-0.9],"title":null}},
     "y":{"field":"y","type":"quantitative","scale":{"domain":[-5.25,1.8],"nice":false,"zero":false},"axis":{"orient":"left","values":[-3,0],"labels":true,"format":"d","title":"wₐ"}},
     "detail":{"field":"l","type":"nominal"},"order":{"field":"i","type":"quantitative"},"color":{"datum":"BOSS+BBN+SN—PyBird"}}},
    {"mark":{"type":"line","interpolate":"cardinal-closed","strokeWidth":1.5,"clip":true},"encoding":{
     "x":{"field":"x","type":"quantitative","scale":{"domain":[-1.2,-0.6],"nice":false,"zero":false},"axis":{"orient":"top","values":[-0.9],"title":null}},
     "y":{"field":"y","type":"quantitative","scale":{"domain":[-5.25,1.8],"nice":false,"zero":false},"axis":{"orient":"right","values":[-3,0],"title":null}},
     "detail":{"field":"l","type":"nominal"},"order":{"field":"i","type":"quantitative"},"color":{"datum":"BOSS+BBN+SN—PyBird-Emu"}}}],
   "resolve":{"axis":{"x":"independent","y":"independent"}}},
  {"width":85,"height":86.5,"transform":[{"filter":"datum.p=='E2'"}],
   "encoding":{"x":{"field":"x","type":"quantitative","scale":{"domain":[-5.25,1.8],"nice":false,"zero":false},"axis":{"values":[-3,0],"title":null}},"y":{"field":"y","type":"quantitative","scale":{"domain":[0,1.088],"nice":false},"axis":null}},
   "layer":[{"mark":{"type":"line","interpolate":"monotone","strokeWidth":2.6,"clip":true},"encoding":{"color":{"datum":"BOSS+BBN+SN—PyBird"}}},
    {"mark":{"type":"line","interpolate":"monotone","strokeWidth":1.5,"clip":true},"encoding":{"color":{"datum":"BOSS+BBN+SN—PyBird-Emu"}}}]},
  {"width":85,"height":86.5,"data":{"values":[{}]},"mark":{"type":"text","text":""},"view":{"stroke":null}},
  {"width":85,"height":86.5,"data":{"values":[{}]},"mark":{"type":"text","text":""},"view":{"stroke":null}},
  {"width":85,"height":86.5,"data":{"values":[{}]},"mark":{"type":"text","text":""},"view":{"stroke":null}},
  {"width":85,"height":86.5,"data":{"values":[{}]},"mark":{"type":"text","text":""},"view":{"stroke":null}},
  {"width":85,"height":86.5,"transform":[{"filter":"datum.p=='R31'"}],
   "layer":[
    {"mark":{"type":"line","interpolate":"cardinal-closed","strokeWidth":2.6,"clip":true},"encoding":{
     "x":{"field":"x","type":"quantitative","scale":{"domain":[-1.2,-0.6],"nice":false,"zero":false},"axis":{"orient":"bottom","values":[-0.9],"title":null}},
     "y":{"field":"y","type":"quantitative","scale":{"domain":[0.2765,0.4475],"nice":false,"zero":false},"axis":{"orient":"left","values":[0.35,0.4],"labels":true,"format":".2f","title":"Ωₘ"}},
     "detail":{"field":"l","type":"nominal"},"order":{"field":"i","type":"quantitative"},"color":{"datum":"BOSS+BBN+SN—PyBird"}}},
    {"mark":{"type":"line","interpolate":"cardinal-closed","strokeWidth":1.5,"clip":true},"encoding":{
     "x":{"field":"x","type":"quantitative","scale":{"domain":[-1.2,-0.6],"nice":false,"zero":false},"axis":{"orient":"top","values":[-0.9],"title":null}},
     "y":{"field":"y","type":"quantitative","scale":{"domain":[0.2765,0.4475],"nice":false,"zero":false},"axis":{"orient":"right","values":[0.35,0.4],"title":null}},
     "detail":{"field":"l","type":"nominal"},"order":{"field":"i","type":"quantitative"},"color":{"datum":"BOSS+BBN+SN—PyBird-Emu"}}}],
   "resolve":{"axis":{"x":"independent","y":"independent"}}},
  {"width":85,"height":86.5,"transform":[{"filter":"datum.p=='R32'"}],
   "layer":[
    {"mark":{"type":"line","interpolate":"cardinal-closed","strokeWidth":2.6,"clip":true},"encoding":{
     "x":{"field":"x","type":"quantitative","scale":{"domain":[-5.25,1.8],"nice":false,"zero":false},"axis":{"orient":"bottom","values":[-3,0],"title":null}},
     "y":{"field":"y","type":"quantitative","scale":{"domain":[0.2765,0.4475],"nice":false,"zero":false},"axis":{"orient":"left","values":[0.35,0.4],"title":null}},
     "detail":{"field":"l","type":"nominal"},"order":{"field":"i","type":"quantitative"},"color":{"datum":"BOSS+BBN+SN—PyBird"}}},
    {"mark":{"type":"line","interpolate":"cardinal-closed","strokeWidth":1.5,"clip":true},"encoding":{
     "x":{"field":"x","type":"quantitative","scale":{"domain":[-5.25,1.8],"nice":false,"zero":false},"axis":{"orient":"top","values":[-3,0],"title":null}},
     "y":{"field":"y","type":"quantitative","scale":{"domain":[0.2765,0.4475],"nice":false,"zero":false},"axis":{"orient":"right","values":[0.35,0.4],"title":null}},
     "detail":{"field":"l","type":"nominal"},"order":{"field":"i","type":"quantitative"},"color":{"datum":"BOSS+BBN+SN—PyBird-Emu"}}}],
   "resolve":{"axis":{"x":"independent","y":"independent"}}},
  {"width":85,"height":86.5,"transform":[{"filter":"datum.p=='E3'"}],
   "encoding":{"x":{"field":"x","type":"quantitative","scale":{"domain":[0.2765,0.4475],"nice":false,"zero":false},"axis":{"values":[0.4],"title":null}},"y":{"field":"y","type":"quantitative","scale":{"domain":[0,1.088],"nice":false},"axis":null}},
   "layer":[{"mark":{"type":"line","interpolate":"monotone","strokeWidth":2.6,"clip":true},"encoding":{"color":{"datum":"BOSS+BBN+SN—PyBird"}}},
    {"mark":{"type":"line","interpolate":"monotone","strokeWidth":1.5,"clip":true},"encoding":{"color":{"datum":"BOSS+BBN+SN—PyBird-Emu"}}}]},
  {"width":85,"height":86.5,"data":{"values":[{}]},"mark":{"type":"text","text":""},"view":{"stroke":null}},
  {"width":85,"height":86.5,"data":{"values":[{}]},"mark":{"type":"text","text":""},"view":{"stroke":null}},
  {"width":85,"height":86.5,"data":{"values":[{}]},"mark":{"type":"text","text":""},"view":{"stroke":null}},
  {"width":85,"height":86.5,"transform":[{"filter":"datum.p=='R41'"}],
   "layer":[
    {"mark":{"type":"line","interpolate":"cardinal-closed","strokeWidth":2.6,"clip":true},"encoding":{
     "x":{"field":"x","type":"quantitative","scale":{"domain":[-1.2,-0.6],"nice":false,"zero":false},"axis":{"orient":"bottom","values":[-0.9],"title":null}},
     "y":{"field":"y","type":"quantitative","scale":{"domain":[0.634,0.82],"nice":false,"zero":false},"axis":{"orient":"left","values":[0.7,0.78],"labels":true,"format":".2f","title":"h"}},
     "detail":{"field":"l","type":"nominal"},"order":{"field":"i","type":"quantitative"},"color":{"datum":"BOSS+BBN+SN—PyBird"}}},
    {"mark":{"type":"line","interpolate":"cardinal-closed","strokeWidth":1.5,"clip":true},"encoding":{
     "x":{"field":"x","type":"quantitative","scale":{"domain":[-1.2,-0.6],"nice":false,"zero":false},"axis":{"orient":"top","values":[-0.9],"title":null}},
     "y":{"field":"y","type":"quantitative","scale":{"domain":[0.634,0.82],"nice":false,"zero":false},"axis":{"orient":"right","values":[0.7,0.78],"title":null}},
     "detail":{"field":"l","type":"nominal"},"order":{"field":"i","type":"quantitative"},"color":{"datum":"BOSS+BBN+SN—PyBird-Emu"}}}],
   "resolve":{"axis":{"x":"independent","y":"independent"}}},
  {"width":85,"height":86.5,"transform":[{"filter":"datum.p=='R42'"}],
   "layer":[
    {"mark":{"type":"line","interpolate":"cardinal-closed","strokeWidth":2.6,"clip":true},"encoding":{
     "x":{"field":"x","type":"quantitative","scale":{"domain":[-5.25,1.8],"nice":false,"zero":false},"axis":{"orient":"bottom","values":[-3,0],"title":null}},
     "y":{"field":"y","type":"quantitative","scale":{"domain":[0.634,0.82],"nice":false,"zero":false},"axis":{"orient":"left","values":[0.7,0.78],"title":null}},
     "detail":{"field":"l","type":"nominal"},"order":{"field":"i","type":"quantitative"},"color":{"datum":"BOSS+BBN+SN—PyBird"}}},
    {"mark":{"type":"line","interpolate":"cardinal-closed","strokeWidth":1.5,"clip":true},"encoding":{
     "x":{"field":"x","type":"quantitative","scale":{"domain":[-5.25,1.8],"nice":false,"zero":false},"axis":{"orient":"top","values":[-3,0],"title":null}},
     "y":{"field":"y","type":"quantitative","scale":{"domain":[0.634,0.82],"nice":false,"zero":false},"axis":{"orient":"right","values":[0.7,0.78],"title":null}},
     "detail":{"field":"l","type":"nominal"},"order":{"field":"i","type":"quantitative"},"color":{"datum":"BOSS+BBN+SN—PyBird-Emu"}}}],
   "resolve":{"axis":{"x":"independent","y":"independent"}}},
  {"width":85,"height":86.5,"transform":[{"filter":"datum.p=='R43'"}],
   "layer":[
    {"mark":{"type":"line","interpolate":"cardinal-closed","strokeWidth":2.6,"clip":true},"encoding":{
     "x":{"field":"x","type":"quantitative","scale":{"domain":[0.2765,0.4475],"nice":false,"zero":false},"axis":{"orient":"bottom","values":[0.4],"title":null}},
     "y":{"field":"y","type":"quantitative","scale":{"domain":[0.634,0.82],"nice":false,"zero":false},"axis":{"orient":"left","values":[0.7,0.78],"title":null}},
     "detail":{"field":"l","type":"nominal"},"order":{"field":"i","type":"quantitative"},"color":{"datum":"BOSS+BBN+SN—PyBird"}}},
    {"mark":{"type":"line","interpolate":"cardinal-closed","strokeWidth":1.5,"clip":true},"encoding":{
     "x":{"field":"x","type":"quantitative","scale":{"domain":[0.2765,0.4475],"nice":false,"zero":false},"axis":{"orient":"top","values":[0.4],"title":null}},
     "y":{"field":"y","type":"quantitative","scale":{"domain":[0.634,0.82],"nice":false,"zero":false},"axis":{"orient":"right","values":[0.7,0.78],"title":null}},
     "detail":{"field":"l","type":"nominal"},"order":{"field":"i","type":"quantitative"},"color":{"datum":"BOSS+BBN+SN—PyBird-Emu"}}}],
   "resolve":{"axis":{"x":"independent","y":"independent"}}},
  {"width":85,"height":86.5,"transform":[{"filter":"datum.p=='E4'"}],
   "encoding":{"x":{"field":"x","type":"quantitative","scale":{"domain":[0.634,0.82],"nice":false,"zero":false},"axis":{"values":[0.7],"title":null}},"y":{"field":"y","type":"quantitative","scale":{"domain":[0,1.088],"nice":false},"axis":null}},
   "layer":[{"mark":{"type":"line","interpolate":"monotone","strokeWidth":2.6,"clip":true},"encoding":{"color":{"datum":"BOSS+BBN+SN—PyBird"}}},
    {"mark":{"type":"line","interpolate":"monotone","strokeWidth":1.5,"clip":true},"encoding":{"color":{"datum":"BOSS+BBN+SN—PyBird-Emu"}}}]},
  {"width":85,"height":86.5,"data":{"values":[{}]},"mark":{"type":"text","text":""},"view":{"stroke":null}},
  {"width":85,"height":86.5,"data":{"values":[{}]},"mark":{"type":"text","text":""},"view":{"stroke":null}},
  {"width":85,"height":86.5,"transform":[{"filter":"datum.p=='R51'"}],
   "layer":[
    {"mark":{"type":"line","interpolate":"cardinal-closed","strokeWidth":2.6,"clip":true},"encoding":{
     "x":{"field":"x","type":"quantitative","scale":{"domain":[-1.2,-0.6],"nice":false,"zero":false},"axis":{"orient":"bottom","values":[-0.9],"title":null}},
     "y":{"field":"y","type":"quantitative","scale":{"domain":[0.479,0.905],"nice":false,"zero":false},"axis":{"orient":"left","values":[0.6,0.8],"labels":true,"format":".1f","title":"σ₈"}},
     "detail":{"field":"l","type":"nominal"},"order":{"field":"i","type":"quantitative"},"color":{"datum":"BOSS+BBN+SN—PyBird"}}},
    {"mark":{"type":"line","interpolate":"cardinal-closed","strokeWidth":1.5,"clip":true},"encoding":{
     "x":{"field":"x","type":"quantitative","scale":{"domain":[-1.2,-0.6],"nice":false,"zero":false},"axis":{"orient":"top","values":[-0.9],"title":null}},
     "y":{"field":"y","type":"quantitative","scale":{"domain":[0.479,0.905],"nice":false,"zero":false},"axis":{"orient":"right","values":[0.6,0.8],"title":null}},
     "detail":{"field":"l","type":"nominal"},"order":{"field":"i","type":"quantitative"},"color":{"datum":"BOSS+BBN+SN—PyBird-Emu"}}}],
   "resolve":{"axis":{"x":"independent","y":"independent"}}},
  {"width":85,"height":86.5,"transform":[{"filter":"datum.p=='R52'"}],
   "layer":[
    {"mark":{"type":"line","interpolate":"cardinal-closed","strokeWidth":2.6,"clip":true},"encoding":{
     "x":{"field":"x","type":"quantitative","scale":{"domain":[-5.25,1.8],"nice":false,"zero":false},"axis":{"orient":"bottom","values":[-3,0],"title":null}},
     "y":{"field":"y","type":"quantitative","scale":{"domain":[0.479,0.905],"nice":false,"zero":false},"axis":{"orient":"left","values":[0.6,0.8],"title":null}},
     "detail":{"field":"l","type":"nominal"},"order":{"field":"i","type":"quantitative"},"color":{"datum":"BOSS+BBN+SN—PyBird"}}},
    {"mark":{"type":"line","interpolate":"cardinal-closed","strokeWidth":1.5,"clip":true},"encoding":{
     "x":{"field":"x","type":"quantitative","scale":{"domain":[-5.25,1.8],"nice":false,"zero":false},"axis":{"orient":"top","values":[-3,0],"title":null}},
     "y":{"field":"y","type":"quantitative","scale":{"domain":[0.479,0.905],"nice":false,"zero":false},"axis":{"orient":"right","values":[0.6,0.8],"title":null}},
     "detail":{"field":"l","type":"nominal"},"order":{"field":"i","type":"quantitative"},"color":{"datum":"BOSS+BBN+SN—PyBird-Emu"}}}],
   "resolve":{"axis":{"x":"independent","y":"independent"}}},
  {"width":85,"height":86.5,"transform":[{"filter":"datum.p=='R53'"}],
   "layer":[
    {"mark":{"type":"line","interpolate":"cardinal-closed","strokeWidth":2.6,"clip":true},"encoding":{
     "x":{"field":"x","type":"quantitative","scale":{"domain":[0.2765,0.4475],"nice":false,"zero":false},"axis":{"orient":"bottom","values":[0.4],"title":null}},
     "y":{"field":"y","type":"quantitative","scale":{"domain":[0.479,0.905],"nice":false,"zero":false},"axis":{"orient":"left","values":[0.6,0.8],"title":null}},
     "detail":{"field":"l","type":"nominal"},"order":{"field":"i","type":"quantitative"},"color":{"datum":"BOSS+BBN+SN—PyBird"}}},
    {"mark":{"type":"line","interpolate":"cardinal-closed","strokeWidth":1.5,"clip":true},"encoding":{
     "x":{"field":"x","type":"quantitative","scale":{"domain":[0.2765,0.4475],"nice":false,"zero":false},"axis":{"orient":"top","values":[0.4],"title":null}},
     "y":{"field":"y","type":"quantitative","scale":{"domain":[0.479,0.905],"nice":false,"zero":false},"axis":{"orient":"right","values":[0.6,0.8],"title":null}},
     "detail":{"field":"l","type":"nominal"},"order":{"field":"i","type":"quantitative"},"color":{"datum":"BOSS+BBN+SN—PyBird-Emu"}}}],
   "resolve":{"axis":{"x":"independent","y":"independent"}}},
  {"width":85,"height":86.5,"transform":[{"filter":"datum.p=='R54'"}],
   "layer":[
    {"mark":{"type":"line","interpolate":"cardinal-closed","strokeWidth":2.6,"clip":true},"encoding":{
     "x":{"field":"x","type":"quantitative","scale":{"domain":[0.634,0.82],"nice":false,"zero":false},"axis":{"orient":"bottom","values":[0.7],"title":null}},
     "y":{"field":"y","type":"quantitative","scale":{"domain":[0.479,0.905],"nice":false,"zero":false},"axis":{"orient":"left","values":[0.6,0.8],"title":null}},
     "detail":{"field":"l","type":"nominal"},"order":{"field":"i","type":"quantitative"},"color":{"datum":"BOSS+BBN+SN—PyBird"}}},
    {"mark":{"type":"line","interpolate":"cardinal-closed","strokeWidth":1.5,"clip":true},"encoding":{
     "x":{"field":"x","type":"quantitative","scale":{"domain":[0.634,0.82],"nice":false,"zero":false},"axis":{"orient":"top","values":[0.7],"title":null}},
     "y":{"field":"y","type":"quantitative","scale":{"domain":[0.479,0.905],"nice":false,"zero":false},"axis":{"orient":"right","values":[0.6,0.8],"title":null}},
     "detail":{"field":"l","type":"nominal"},"order":{"field":"i","type":"quantitative"},"color":{"datum":"BOSS+BBN+SN—PyBird-Emu"}}}],
   "resolve":{"axis":{"x":"independent","y":"independent"}}},
  {"width":85,"height":86.5,"transform":[{"filter":"datum.p=='E5'"}],
   "encoding":{"x":{"field":"x","type":"quantitative","scale":{"domain":[0.479,0.905],"nice":false,"zero":false},"axis":{"values":[0.6,0.8],"title":null}},"y":{"field":"y","type":"quantitative","scale":{"domain":[0,1.088],"nice":false},"axis":null}},
   "layer":[{"mark":{"type":"line","interpolate":"monotone","strokeWidth":2.6,"clip":true},"encoding":{"color":{"datum":"BOSS+BBN+SN—PyBird"}}},
    {"mark":{"type":"line","interpolate":"monotone","strokeWidth":1.5,"clip":true},"encoding":{"color":{"datum":"BOSS+BBN+SN—PyBird-Emu"}}}]},
  {"width":85,"height":86.5,"data":{"values":[{}]},"mark":{"type":"text","text":""},"view":{"stroke":null}},
  {"width":85,"height":86.5,"transform":[{"filter":"datum.p=='R61'"}],
   "layer":[
    {"mark":{"type":"line","interpolate":"cardinal-closed","strokeWidth":2.6,"clip":true},"encoding":{
     "x":{"field":"x","type":"quantitative","scale":{"domain":[-1.2,-0.6],"nice":false,"zero":false},"axis":{"orient":"bottom","values":[-0.9],"labels":true,"format":".1f","title":"w₀"}},
     "y":{"field":"y","type":"quantitative","scale":{"domain":[0.392,1.072],"nice":false,"zero":false},"axis":{"orient":"left","values":[0.6,0.8],"labels":true,"format":".1f","title":"nₛ"}},
     "detail":{"field":"l","type":"nominal"},"order":{"field":"i","type":"quantitative"},"color":{"datum":"BOSS+BBN+SN—PyBird"}}},
    {"mark":{"type":"line","interpolate":"cardinal-closed","strokeWidth":1.5,"clip":true},"encoding":{
     "x":{"field":"x","type":"quantitative","scale":{"domain":[-1.2,-0.6],"nice":false,"zero":false},"axis":{"orient":"top","values":[-0.9],"title":null}},
     "y":{"field":"y","type":"quantitative","scale":{"domain":[0.392,1.072],"nice":false,"zero":false},"axis":{"orient":"right","values":[0.6,0.8],"title":null}},
     "detail":{"field":"l","type":"nominal"},"order":{"field":"i","type":"quantitative"},"color":{"datum":"BOSS+BBN+SN—PyBird-Emu"}}}],
   "resolve":{"axis":{"x":"independent","y":"independent"}}},
  {"width":85,"height":86.5,"transform":[{"filter":"datum.p=='R62'"}],
   "layer":[
    {"mark":{"type":"line","interpolate":"cardinal-closed","strokeWidth":2.6,"clip":true},"encoding":{
     "x":{"field":"x","type":"quantitative","scale":{"domain":[-5.25,1.8],"nice":false,"zero":false},"axis":{"orient":"bottom","values":[-3,0],"labels":true,"format":"d","title":"wₐ"}},
     "y":{"field":"y","type":"quantitative","scale":{"domain":[0.392,1.072],"nice":false,"zero":false},"axis":{"orient":"left","values":[0.6,0.8],"title":null}},
     "detail":{"field":"l","type":"nominal"},"order":{"field":"i","type":"quantitative"},"color":{"datum":"BOSS+BBN+SN—PyBird"}}},
    {"mark":{"type":"line","interpolate":"cardinal-closed","strokeWidth":1.5,"clip":true},"encoding":{
     "x":{"field":"x","type":"quantitative","scale":{"domain":[-5.25,1.8],"nice":false,"zero":false},"axis":{"orient":"top","values":[-3,0],"title":null}},
     "y":{"field":"y","type":"quantitative","scale":{"domain":[0.392,1.072],"nice":false,"zero":false},"axis":{"orient":"right","values":[0.6,0.8],"title":null}},
     "detail":{"field":"l","type":"nominal"},"order":{"field":"i","type":"quantitative"},"color":{"datum":"BOSS+BBN+SN—PyBird-Emu"}}}],
   "resolve":{"axis":{"x":"independent","y":"independent"}}},
  {"width":85,"height":86.5,"transform":[{"filter":"datum.p=='R63'"}],
   "layer":[
    {"mark":{"type":"line","interpolate":"cardinal-closed","strokeWidth":2.6,"clip":true},"encoding":{
     "x":{"field":"x","type":"quantitative","scale":{"domain":[0.2765,0.4475],"nice":false,"zero":false},"axis":{"orient":"bottom","values":[0.4],"labels":true,"format":".1f","title":"Ωₘ"}},
     "y":{"field":"y","type":"quantitative","scale":{"domain":[0.392,1.072],"nice":false,"zero":false},"axis":{"orient":"left","values":[0.6,0.8],"title":null}},
     "detail":{"field":"l","type":"nominal"},"order":{"field":"i","type":"quantitative"},"color":{"datum":"BOSS+BBN+SN—PyBird"}}},
    {"mark":{"type":"line","interpolate":"cardinal-closed","strokeWidth":1.5,"clip":true},"encoding":{
     "x":{"field":"x","type":"quantitative","scale":{"domain":[0.2765,0.4475],"nice":false,"zero":false},"axis":{"orient":"top","values":[0.4],"title":null}},
     "y":{"field":"y","type":"quantitative","scale":{"domain":[0.392,1.072],"nice":false,"zero":false},"axis":{"orient":"right","values":[0.6,0.8],"title":null}},
     "detail":{"field":"l","type":"nominal"},"order":{"field":"i","type":"quantitative"},"color":{"datum":"BOSS+BBN+SN—PyBird-Emu"}}}],
   "resolve":{"axis":{"x":"independent","y":"independent"}}},
  {"width":85,"height":86.5,"transform":[{"filter":"datum.p=='R64'"}],
   "layer":[
    {"mark":{"type":"line","interpolate":"cardinal-closed","strokeWidth":2.6,"clip":true},"encoding":{
     "x":{"field":"x","type":"quantitative","scale":{"domain":[0.634,0.82],"nice":false,"zero":false},"axis":{"orient":"bottom","values":[0.7],"labels":true,"format":".1f","title":"h"}},
     "y":{"field":"y","type":"quantitative","scale":{"domain":[0.392,1.072],"nice":false,"zero":false},"axis":{"orient":"left","values":[0.6,0.8],"title":null}},
     "detail":{"field":"l","type":"nominal"},"order":{"field":"i","type":"quantitative"},"color":{"datum":"BOSS+BBN+SN—PyBird"}}},
    {"mark":{"type":"line","interpolate":"cardinal-closed","strokeWidth":1.5,"clip":true},"encoding":{
     "x":{"field":"x","type":"quantitative","scale":{"domain":[0.634,0.82],"nice":false,"zero":false},"axis":{"orient":"top","values":[0.7],"title":null}},
     "y":{"field":"y","type":"quantitative","scale":{"domain":[0.392,1.072],"nice":false,"zero":false},"axis":{"orient":"right","values":[0.6,0.8],"title":null}},
     "detail":{"field":"l","type":"nominal"},"order":{"field":"i","type":"quantitative"},"color":{"datum":"BOSS+BBN+SN—PyBird-Emu"}}}],
   "resolve":{"axis":{"x":"independent","y":"independent"}}},
  {"width":85,"height":86.5,"transform":[{"filter":"datum.p=='R65'"}],
   "layer":[
    {"mark":{"type":"line","interpolate":"cardinal-closed","strokeWidth":2.6,"clip":true},"encoding":{
     "x":{"field":"x","type":"quantitative","scale":{"domain":[0.479,0.905],"nice":false,"zero":false},"axis":{"orient":"bottom","values":[0.6,0.8],"labels":true,"format":".1f","title":"σ₈"}},
     "y":{"field":"y","type":"quantitative","scale":{"domain":[0.392,1.072],"nice":false,"zero":false},"axis":{"orient":"left","values":[0.6,0.8],"title":null}},
     "detail":{"field":"l","type":"nominal"},"order":{"field":"i","type":"quantitative"},"color":{"datum":"BOSS+BBN+SN—PyBird"}}},
    {"mark":{"type":"line","interpolate":"cardinal-closed","strokeWidth":1.5,"clip":true},"encoding":{
     "x":{"field":"x","type":"quantitative","scale":{"domain":[0.479,0.905],"nice":false,"zero":false},"axis":{"orient":"top","values":[0.6,0.8],"title":null}},
     "y":{"field":"y","type":"quantitative","scale":{"domain":[0.392,1.072],"nice":false,"zero":false},"axis":{"orient":"right","values":[0.6,0.8],"title":null}},
     "detail":{"field":"l","type":"nominal"},"order":{"field":"i","type":"quantitative"},"color":{"datum":"BOSS+BBN+SN—PyBird-Emu"}}}],
   "resolve":{"axis":{"x":"independent","y":"independent"}}},
  {"width":85,"height":86.5,"transform":[{"filter":"datum.p=='E6'"}],
   "encoding":{"x":{"field":"x","type":"quantitative","scale":{"domain":[0.392,1.072],"nice":false,"zero":false},"axis":{"values":[0.6,0.9],"labels":true,"format":".1f","title":"nₛ"}},"y":{"field":"y","type":"quantitative","scale":{"domain":[0,1.088],"nice":false},"axis":null}},
   "layer":[{"mark":{"type":"line","interpolate":"monotone","strokeWidth":2.6,"clip":true},"encoding":{"color":{"datum":"BOSS+BBN+SN—PyBird"}}},
    {"mark":{"type":"line","interpolate":"monotone","strokeWidth":1.5,"clip":true},"encoding":{"color":{"datum":"BOSS+BBN+SN—PyBird-Emu"}}}]}
 ]}
],
"spacing":46,
"resolve":{"scale":{"color":"independent"}}
}
